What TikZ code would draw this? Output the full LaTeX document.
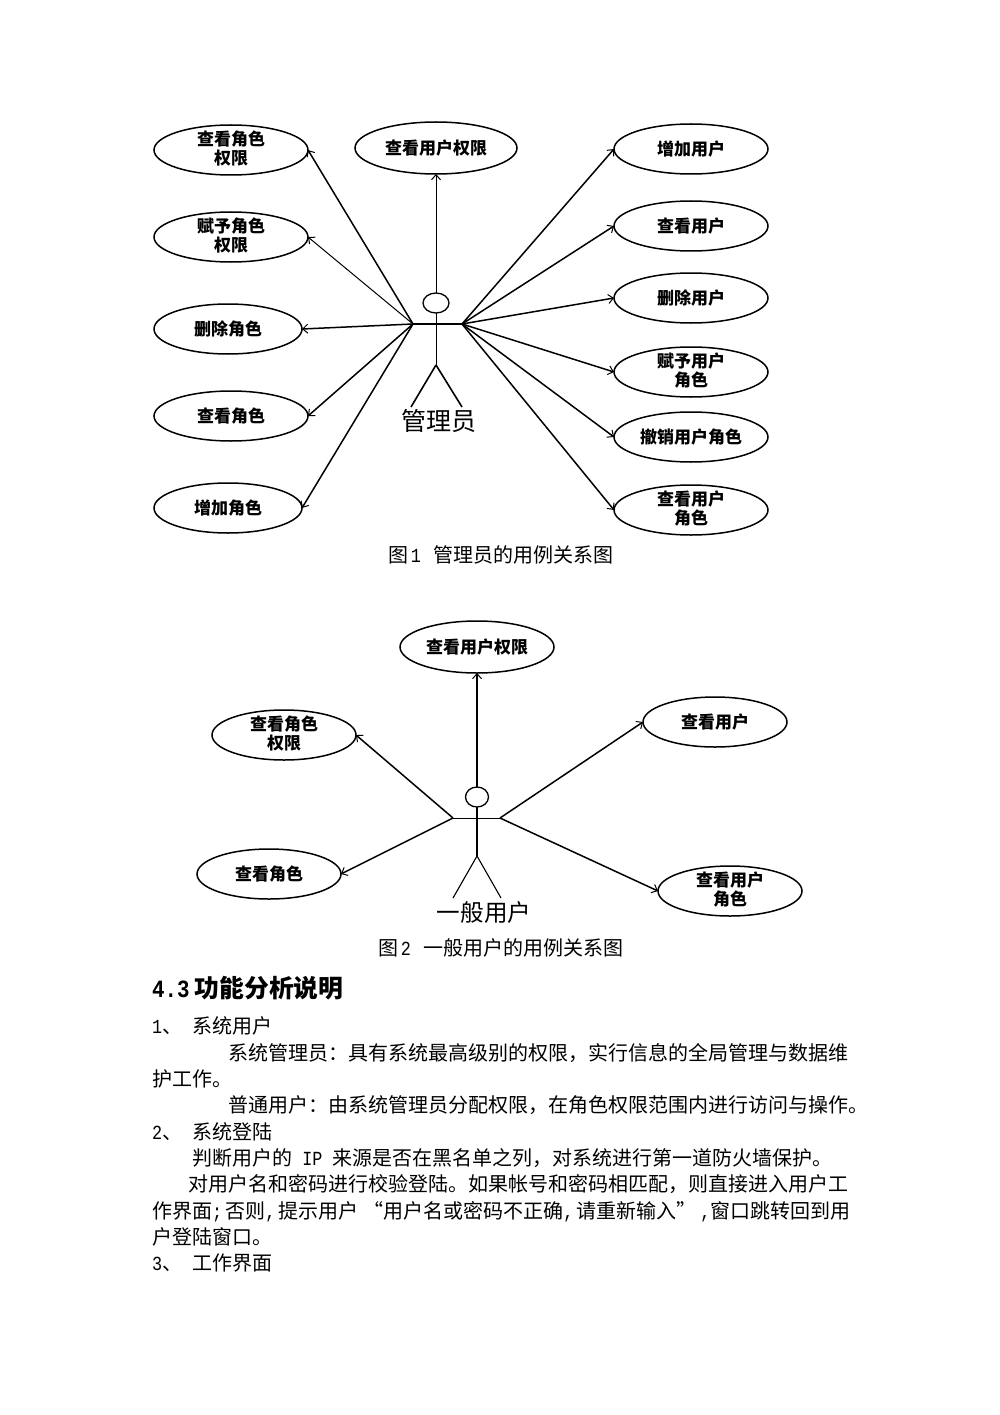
\documentclass[tikz,border=0pt]{standalone}
\usepackage{fontspec}
\setmainfont{Noto Sans CJK SC}
\newfontfamily\lat{Liberation Mono}[FakeStretch=0.84]
\newcommand\upfix{\rule[-5pt]{0pt}{1pt}}
\usetikzlibrary{shapes.geometric,arrows.meta}
\tikzset{
  x=1pt,y=-1pt,
  uc/.style={ellipse,draw,line width=1.5pt,inner xsep=0pt,inner ysep=-6pt,outer sep=0pt,
    minimum width=154pt,minimum height=50pt,align=center,
    font=\fontsize{17}{19.5}\selectfont\bfseries},
  ucn/.style={uc,minimum width=148pt},
  ucm/.style={uc,minimum width=144pt},
  conn/.style={line width=1.5pt,-{Straight Barb[length=5pt,width=9pt,line width=1pt]}},
  thinconn/.style={conn,line width=1pt},
  limb/.style={line width=1.6pt},
  thinlimb/.style={line width=0.9pt},
  head/.style={ellipse,draw,line width=1.3pt,inner sep=0pt,outer sep=0pt},
  actorname/.style={font=\fontsize{25}{25}\selectfont,inner sep=0pt},
  actornametwo/.style={font=\fontsize{23.6}{24}\selectfont,inner sep=0pt},
  caption/.style={font=\fontsize{20}{20}\selectfont,inner sep=0pt},
  body/.style={anchor=base west,font=\fontsize{20}{20}\selectfont,inner sep=0pt},
  title/.style={anchor=base west,font=\fontsize{24.8}{25}\selectfont\bfseries,inner sep=0pt},
}
\begin{document}
\begin{tikzpicture}
\useasboundingbox (0,0) rectangle (1000,1415);
% Figure 1
\node[uc] (a1) at (231,150) {查看角色\\权限\upfix};
\node[uc] (a2) at (231,237) {赋予角色\\权限\upfix};
\node[ucn] (a3) at (228,329) {删除角色};
\node[uc] (a4) at (231,416) {查看角色};
\node[ucn] (a5) at (228,508) {增加角色};
\node[uc,minimum width=162pt,minimum height=52pt] (a6) at (436,148) {查看用户权限};
\node[uc] (b1) at (691,149) {增加用户};
\node[uc] (b2) at (691,226) {查看用户};
\node[uc] (b3) at (691,298) {删除用户};
\node[uc] (b4) at (691,372) {赋予用户\\角色\upfix};
\node[uc] (b5) at (691,437) {撤销用户角色};
\node[uc] (b6) at (691,510) {查看用户\\角色\upfix};
\node[head,minimum width=26pt,minimum height=20pt] (h1) at (436,303) {};
\coordinate (lh1) at (413,324);
\coordinate (rh1) at (462,324);
\coordinate (hip1) at (436,365);
\coordinate (ll1) at (411,407);
\coordinate (rl1) at (462,407);
\draw[limb] (lh1) -- (rh1);
\draw[thinlimb] (h1.south) -- (hip1);
\draw[limb] (hip1) -- (ll1);
\draw[limb] (hip1) -- (rl1);
\node[actorname] (n1) at (439,421) {管理员};
\draw[conn] (lh1) -- (a1.east);
\draw[thinconn] (lh1) -- (a2.east);
\draw[conn] (lh1) -- (a3.east);
\draw[conn] (lh1) -- (a4.east);
\draw[conn] (lh1) -- (a5.east);
\draw[thinconn] (h1.north) -- (a6.south);
\draw[conn] (rh1) -- (b1.west);
\draw[conn] (rh1) -- (b2.west);
\draw[conn] (rh1) -- (b3.west);
\draw[conn] (rh1) -- (b4.west);
\draw[conn] (rh1) -- (b5.west);
\draw[conn] (rh1) -- (b6.west);
\node[caption] (c1) at (501,555) {图\hspace{2pt}{\lat 1\ }\hspace{2pt}管理员的用例关系图};
% Figure 2
\node[uc,minimum height=52pt] (d1) at (477,647) {查看用户权限};
\node[ucm] (d2) at (284,735) {查看角色\\权限\upfix};
\node[ucm] (d3) at (269,874) {查看角色};
\node[ucm] (d4) at (715,722) {查看用户};
\node[ucm] (d5) at (730,891) {查看用户\\角色\upfix};
\node[head,minimum width=23pt,minimum height=20pt] (h2) at (477,797) {};
\coordinate (lh2) at (453,818);
\coordinate (rh2) at (500,818);
\coordinate (hip2) at (477,856);
\coordinate (ll2) at (453,898);
\coordinate (rl2) at (501,898);
\draw[thinlimb] (lh2) -- (rh2);
\draw[line width=1.8pt] (h2.south) -- (hip2);
\draw[line width=1.1pt] (hip2) -- (ll2);
\draw[line width=1.1pt] (hip2) -- (rl2);
\node[actornametwo] (n2) at (484,913) {一般用户};
\draw[conn] (h2.north) -- (d1.south);
\draw[conn] (lh2) -- (d2.east);
\draw[conn] (lh2) -- (d3.east);
\draw[conn] (rh2) -- (d4.west);
\draw[conn] (rh2) -- (d5.west);
\node[caption] (c2) at (501,948) {图\hspace{2pt}{\lat 2\ }\hspace{2pt}一般用户的用例关系图};
% Text
\node[title] (t0) at (152,997) {{\lat 4.3}\hspace{5pt}功能分析说明};
\node[body] (t1) at (152,1033) {{\lat 1}、\hspace{10pt}系统用户};
\node[body] (t2) at (228,1060) {系统管理员：具有系统最高级别的权限，实行信息的全局管理与数据维};
\node[body] (t3) at (152,1086) {护工作。};
\node[body] (t4) at (228,1112) {普通用户：由系统管理员分配权限，在角色权限范围内进行访问与操作。};
\node[body] (t5) at (152,1139) {{\lat 2}、\hspace{10pt}系统登陆};
\node[body] (t6) at (192,1165) {判断用户的{\lat\ IP\ }来源是否在黑名单之列，对系统进行第一道防火墙保护。};
\node[body] (t7) at (188,1191) {对用户名和密码进行校验登陆。如果帐号和密码相匹配，则直接进入用户工};
\node[body] (t8) at (152,1218) {作界面{\lat ;}\hspace{3pt}否则{\lat ,}\hspace{3pt}提示用户\hspace{5pt}“用户名或密码不正确{\lat ,}\hspace{3pt}请重新输入”\hspace{4pt}{\lat ,}窗口跳转回到用};
\node[body] (t9) at (152,1244) {户登陆窗口。};
\node[body] (t10) at (152,1270) {{\lat 3}、\hspace{10pt}工作界面};
\end{tikzpicture}
\end{document}
